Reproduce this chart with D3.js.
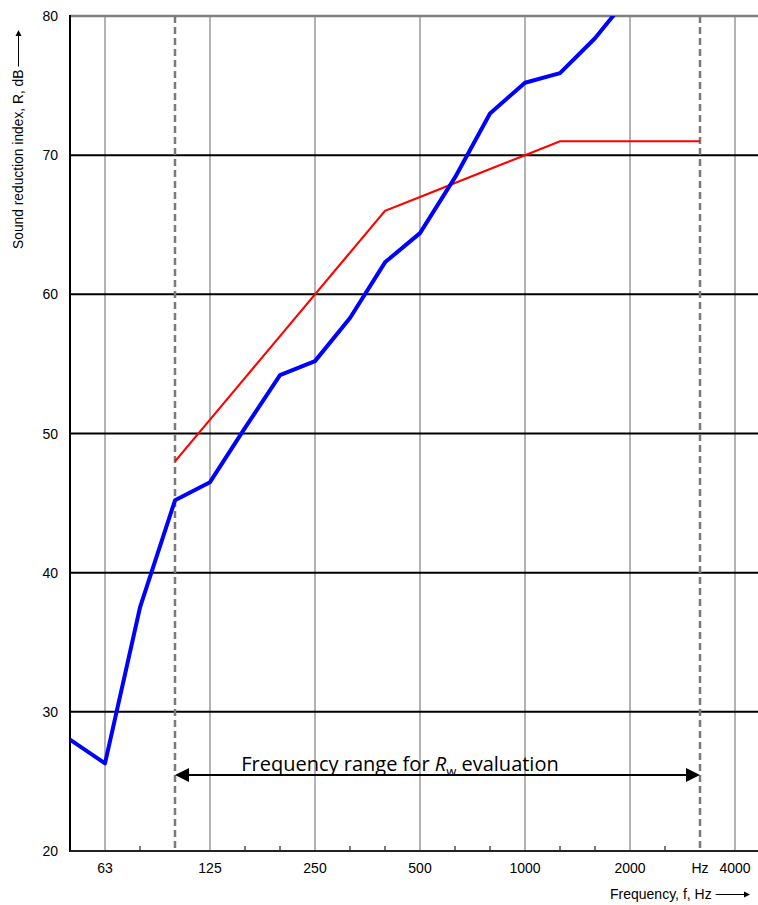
<!DOCTYPE html>
<html>
<head>
<meta charset="utf-8">
<script src="https://cdn.jsdelivr.net/npm/d3@7"></script>
<style>
  body { margin: 0; background: #fff; }
  svg { display: block; }
</style>
</head>
<body>
<script>
// third-octave bands, 50 Hz .. 5000 Hz
const bands = [50, 63, 80, 100, 125, 160, 200, 250, 315, 400, 500, 630, 800, 1000, 1250, 1600, 2000, 2500, 3150, 4000, 5000];
// measured sound reduction index (blue)
const measuredFreq = [50, 63, 80, 100, 125, 160, 200, 250, 315, 400, 500, 630, 800, 1000, 1250, 1600, 2000];
const measuredR = [28.0, 26.3, 37.5, 45.2, 46.5, 50.4, 54.2, 55.2, 58.3, 62.3, 64.4, 68.4, 73.0, 75.2, 75.9, 78.4, 81.5];
// shifted reference curve (red)
const refFreq = [100, 125, 160, 200, 250, 315, 400, 500, 630, 800, 1000, 1250, 1600, 2000, 2500, 3150];
const refR = [48, 51, 54, 57, 60, 63, 66, 67, 68, 69, 70, 71, 71, 71, 71, 71];

const octaveLabels = [[63, "63"], [125, "125"], [250, "250"], [500, "500"], [1000, "1000"], [2000, "2000"], [3150, "Hz"], [4000, "4000"]];
const octaveLines = [63, 125, 250, 500, 1000, 2000, 4000];
const rangeLines = [100, 3150];
const yTicks = [20, 30, 40, 50, 60, 70, 80];

const W = 758, H = 905;
const margin = {top: 16, right: 2, bottom: 54, left: 70};
const font = "Liberation Sans, Arial, Helvetica, sans-serif";

const svg = d3.select("body").append("svg")
  .attr("width", W).attr("height", H);

const idx = f => bands.indexOf(f);
const x = d3.scaleLinear().domain([0, 19.6]).range([margin.left, margin.left + 19.6 * 35]);
const y = d3.scaleLinear().domain([20, 80]).range([H - margin.bottom, margin.top]);

const x0 = x(0), x1 = W, yb = y(20), yt = y(80);

svg.append("defs").append("clipPath").attr("id", "plot")
  .append("rect").attr("x", x0).attr("y", yt).attr("width", x1 - x0).attr("height", yb - yt);

// vertical grid at octaves
svg.selectAll(".vgrid").data(octaveLines).enter().append("line")
  .attr("x1", d => x(idx(d))).attr("x2", d => x(idx(d)))
  .attr("y1", yt).attr("y2", yb)
  .attr("stroke", "#9a9a9a").attr("stroke-width", 1.5);

// third-octave tick marks
svg.selectAll(".tick3").data(bands.filter(b => octaveLines.indexOf(b) < 0 && rangeLines.indexOf(b) < 0 && b !== 50 && b !== 5000)).enter().append("line")
  .attr("x1", d => x(idx(d))).attr("x2", d => x(idx(d)))
  .attr("y1", yb).attr("y2", yb - 5)
  .attr("stroke", "#222").attr("stroke-width", 1.2);

// horizontal grid
svg.selectAll(".hgrid").data(yTicks.filter(d => d > 20 && d < 80)).enter().append("line")
  .attr("x1", x0).attr("x2", x1)
  .attr("y1", d => y(d)).attr("y2", d => y(d))
  .attr("stroke", "#000").attr("stroke-width", 2);

// top border
svg.append("line").attr("x1", x0).attr("x2", x1).attr("y1", yt).attr("y2", yt)
  .attr("stroke", "#808080").attr("stroke-width", 2.5);

// dashed evaluation range lines
svg.selectAll(".range").data(rangeLines).enter().append("line")
  .attr("x1", d => x(idx(d))).attr("x2", d => x(idx(d)))
  .attr("y1", yt).attr("y2", yb)
  .attr("stroke", "#7a7a7a").attr("stroke-width", 2.5)
  .attr("stroke-dasharray", "7,4");

// axes lines
svg.append("line").attr("x1", x0).attr("x2", x0).attr("y1", yt - 1).attr("y2", yb + 1)
  .attr("stroke", "#000").attr("stroke-width", 2);
svg.append("line").attr("x1", x0).attr("x2", x1).attr("y1", yb).attr("y2", yb)
  .attr("stroke", "#222").attr("stroke-width", 2);

// curves
const line = d3.line().x(d => x(idx(d[0]))).y(d => y(d[1]));
const g = svg.append("g").attr("clip-path", "url(#plot)");
g.append("path")
  .datum(refFreq.map((f, i) => [f, refR[i]]))
  .attr("fill", "none").attr("stroke", "#ff0000").attr("stroke-width", 2.2)
  .attr("d", line);
g.append("path")
  .datum(measuredFreq.map((f, i) => [f, measuredR[i]]))
  .attr("fill", "none").attr("stroke", "#0000ff").attr("stroke-width", 4)
  .attr("stroke-linejoin", "round")
  .attr("d", line);

// y tick labels
svg.selectAll(".ylab").data(yTicks).enter().append("text")
  .attr("x", 58).attr("y", d => y(d) + 5)
  .attr("text-anchor", "end")
  .attr("font-family", font)
  .attr("font-size", 14)
  .text(d => d);

// x tick labels
svg.selectAll(".xlab").data(octaveLabels).enter().append("text")
  .attr("x", d => x(idx(d[0]))).attr("y", 873)
  .attr("text-anchor", "middle")
  .attr("font-family", font)
  .attr("font-size", 14)
  .text(d => d[1]);

// small arrow used after axis titles
function arrow(sel, len) {
  sel.append("line").attr("x1", 0).attr("x2", len - 1).attr("y1", 0).attr("y2", 0)
    .attr("stroke", "#000").attr("stroke-width", 1);
  sel.append("path").attr("d", `M${len},0 L${len - 6},-3 L${len - 6},3 Z`).attr("fill", "#000");
}

// x axis title
const xt = svg.append("g").attr("transform", "translate(610,899)");
const xtt = xt.append("text")
  .attr("font-family", font).attr("font-size", 14)
  .text("Frequency, f, Hz");
const xl = xtt.node().getComputedTextLength();
xt.append("g").attr("transform", `translate(${xl + 4},-4.5)`).call(arrow, 136 - xl);

// y axis title
const yt2 = svg.append("g").attr("transform", "translate(23,249) rotate(-90)");
const ytt = yt2.append("text")
  .attr("font-family", font).attr("font-size", 13.8)
  .text("Sound reduction index, R, dB");
const yl = ytt.node().getComputedTextLength();
yt2.append("g").attr("transform", `translate(${yl + 3},-4.5)`).call(arrow, 216 - yl);

// evaluation range arrow
const ay = 775;
const ax0 = x(idx(100)), ax1 = x(idx(3150));
svg.append("line").attr("x1", ax0 + 10).attr("x2", ax1 - 10).attr("y1", ay).attr("y2", ay)
  .attr("stroke", "#000").attr("stroke-width", 2);
svg.append("path")
  .attr("d", `M${ax0},${ay} L${ax0 + 14},${ay - 7} L${ax0 + 14},${ay + 7} Z`)
  .attr("fill", "#000");
svg.append("path")
  .attr("d", `M${ax1},${ay} L${ax1 - 14},${ay - 7} L${ax1 - 14},${ay + 7} Z`)
  .attr("fill", "#000");

const t = svg.append("text")
  .attr("x", 400).attr("y", 771)
  .attr("text-anchor", "middle")
  .attr("font-family", "Open Sans, Lato, sans-serif")
  .attr("font-size", 20)
  .attr("fill", "#000");
t.append("tspan").text("Frequency range for ");
t.append("tspan").attr("font-style", "italic").text("R");
t.append("tspan").attr("font-size", 13).attr("dy", 5).text("w");
t.append("tspan").attr("dy", -5).text(" evaluation");
</script>
</body>
</html>
